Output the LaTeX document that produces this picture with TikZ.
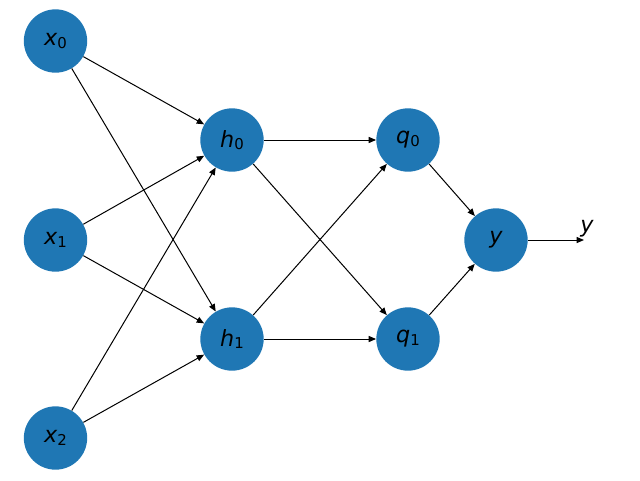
\documentclass[tikz,border=0pt]{standalone}
\usepackage{fontspec}
\setmainfont{DejaVu Sans}
\usetikzlibrary{arrows.meta}
\definecolor{azul}{HTML}{1F77B4}
\newcommand{\rotulo}[2]{\textit{#1}\raisebox{-0.12em}{\fontsize{11.2}{12}\selectfont #2}}

\begin{document}
\begin{tikzpicture}[x=0.75pt, y=-0.75pt, >={Triangle[length=5.6pt, width=4.6pt]},
    neuronio/.style={circle, fill=azul, minimum size=47.5pt, inner sep=0pt,
        font=\fontsize{16.7}{20}\selectfont},
    ligacao/.style={->, line width=0.75pt}]
    \useasboundingbox (0,0) rectangle (640,480);

    % camada de entrada
    \node[neuronio] (x0) at (55.5,41) {\rotulo{x}{0}};
    \node[neuronio] (x1) at (55.5,240) {\rotulo{x}{1}};
    \node[neuronio] (x2) at (55.5,438) {\rotulo{x}{2}};

    % camadas ocultas
    \node[neuronio] (h0) at (232,140) {\rotulo{h}{0}};
    \node[neuronio] (h1) at (232,339) {\rotulo{h}{1}};
    \node[neuronio] (q0) at (408,140) {\rotulo{q}{0}};
    \node[neuronio] (q1) at (408,339) {\rotulo{q}{1}};

    % saida
    \node[neuronio] (y) at (496,240) {\textit{y}};
    \coordinate (fim) at (584,240);
    \node[font=\fontsize{16.7}{20}\selectfont] (ylbl) at (587,229) {\textit{y}};

    % ligacoes entre camadas
    \foreach \i in {0,1,2}
        \foreach \j in {0,1}
            \draw[ligacao] (x\i) -- (h\j);
    \foreach \i in {0,1}
        \foreach \j in {0,1}
            \draw[ligacao] (h\i) -- (q\j);
    \foreach \i in {0,1}
        \draw[ligacao] (q\i) -- (y);
    \draw[ligacao] (y) -- (fim);

\end{tikzpicture}
\end{document}
